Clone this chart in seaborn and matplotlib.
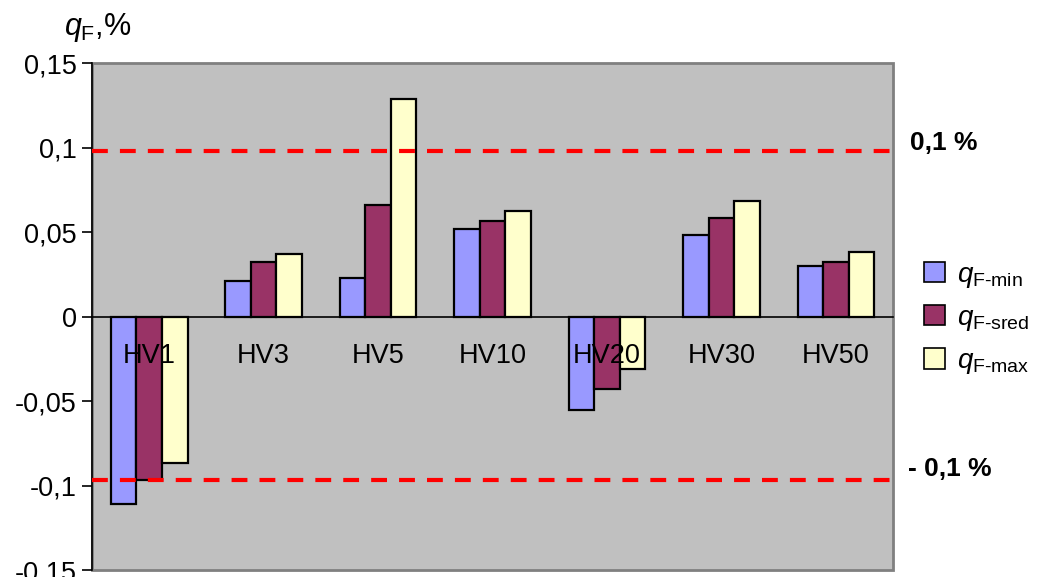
"""
Bar chart of q_F deviations per HV load level (Excel-style recreation).
"""

import pandas as pd
import matplotlib.pyplot as plt
import matplotlib.patches as mpatches
from matplotlib.ticker import FuncFormatter, FixedLocator
import seaborn as sns

# Data
categories = ["HV1", "HV3", "HV5", "HV10", "HV20", "HV30", "HV50"]
q_min  = [-0.111, 0.0213, 0.0225, 0.0520, -0.0556, 0.0485, 0.0296]
q_sred = [-0.097, 0.0320, 0.0659, 0.0568, -0.0426, 0.0580, 0.0320]
q_max  = [-0.0864, 0.0367, 0.1288, 0.0627, -0.0308, 0.0686, 0.0379]
series_names = ["min", "sred", "max"]
limit_upper = 0.098
limit_lower = -0.097
limit_labels = ["0,1 %", "- 0,1 %"]
y_ticks = [-0.15, -0.1, -0.05, 0, 0.05, 0.1, 0.15]

sns.set_style("white")
plt.rcParams["font.family"] = ["Liberation Sans", "DejaVu Sans"]
plt.rcParams["mathtext.fontset"] = "custom"
plt.rcParams["mathtext.rm"] = "Liberation Sans"
plt.rcParams["mathtext.it"] = "Liberation Sans:italic"
for key in ("text.color", "xtick.color", "ytick.color", "axes.labelcolor"):
    plt.rcParams[key] = "black"

PALETTE = {"min": "#9999FF", "sred": "#993366", "max": "#FFFFCC"}

df = pd.DataFrame({
    "HV": categories * 3,
    "Series": [s for s in series_names for _ in categories],
    "q": q_min + q_sred + q_max,
})

fig = plt.figure(figsize=(10.37, 5.77), dpi=100)
ax = fig.add_axes([0.0887, 0.0121, 0.7725, 0.8787])
ax.set_facecolor("#C0C0C0")
ax.set_axisbelow(False)

sns.barplot(data=df, x="HV", y="q", hue="Series", order=categories,
            hue_order=series_names, palette=PALETTE, width=0.67, saturation=1,
            edgecolor="black", linewidth=1.6, legend=False, ax=ax,
            errorbar=None)

# limit lines
for yv in (limit_upper, limit_lower):
    ax.axhline(yv, color="#FF0000", linestyle=(0, (3.8, 2.9)), linewidth=3, zorder=3)

ax.set_xlim(-0.5, len(categories) - 0.5)
ax.set_ylim(y_ticks[0], y_ticks[-1])
ax.set_yticks(y_ticks)
ax.yaxis.set_major_formatter(FuncFormatter(
    lambda v, _: "0" if abs(v) < 1e-9 else f"{v:g}".replace(".", ",")))
ax.set_xlabel("")
ax.set_ylabel("")

# category axis at zero, Excel style
ax.spines["bottom"].set_position(("data", 0))
ax.spines["bottom"].set_color("black")
ax.spines["bottom"].set_linewidth(1.2)
ax.spines["left"].set_color("black")
ax.spines["left"].set_linewidth(1.2)
ax.spines[["top", "right"]].set_visible(False)
ax.add_patch(mpatches.Rectangle((0, 0), 1, 1, transform=ax.transAxes, fill=False,
                                edgecolor="#808080", linewidth=2, clip_on=False, zorder=0.5))

ax.tick_params(axis="x", which="major", length=0, pad=19, labelsize=19.5, labelcolor="black")
ax.xaxis.set_minor_locator(FixedLocator([i + 0.5 for i in range(-1, len(categories))]))
ax.tick_params(axis="x", which="minor", length=7, width=1.2, direction="out", color="black")
ax.tick_params(axis="y", length=7, width=1.2, direction="out", labelsize=19.5, pad=4,
               left=True, color="black", labelcolor="black")

# axis title and limit labels
fig.text(0.062, 1 - 27 / 577, r"$q_{\mathrm{F}}$,%", fontsize=22, va="center", ha="left")
fig.text(910 / 1037, 1 - 143 / 577, limit_labels[0], fontsize=19, fontweight="bold", va="center")
fig.text(908 / 1037, 1 - 469 / 577, limit_labels[1], fontsize=19, fontweight="bold", va="center")

# legend
handles = [mpatches.Patch(facecolor=PALETTE[s], edgecolor="black", linewidth=1.2) for s in series_names]
labels = [r"$q_{\mathrm{F\text{-}%s}}$" % s for s in series_names]
fig.legend(handles, labels, loc="center left", bbox_to_anchor=(924 / 1037, 1 - 319 / 577),
           frameon=False, fontsize=20, handlelength=0.75, handleheight=0.75,
           handletextpad=0.45, labelspacing=0.55, borderpad=0, borderaxespad=0)

plt.savefig("out.png", dpi=100)
plt.close()
